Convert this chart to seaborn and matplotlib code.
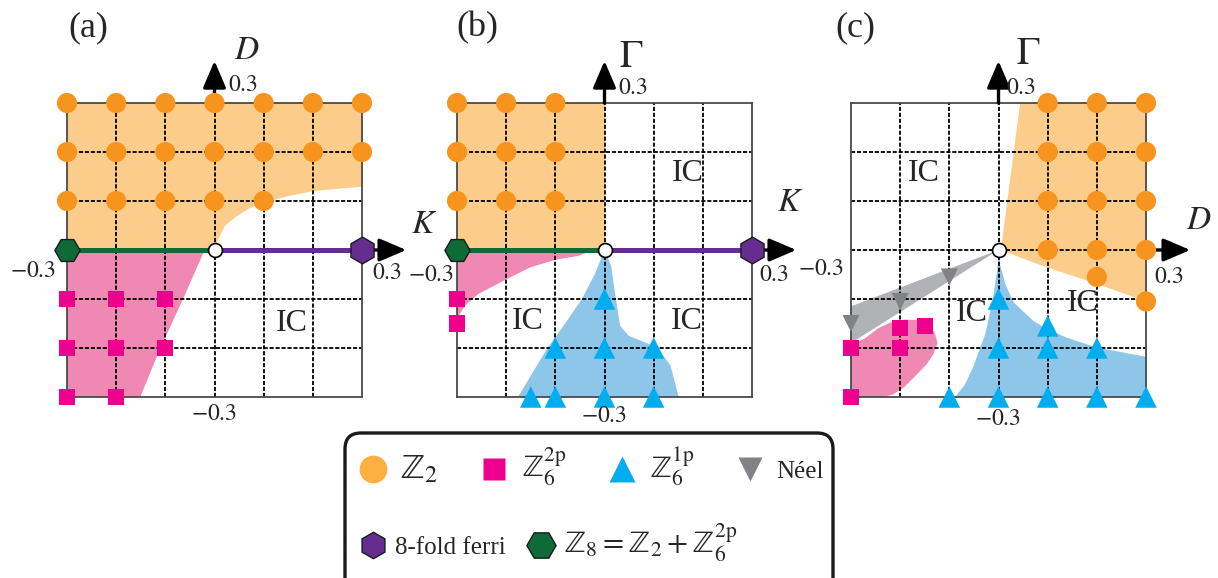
"""Phase diagrams (a) K-D, (b) K-Gamma, (c) D-Gamma with a shared legend."""

import matplotlib

matplotlib.use("Agg")
import matplotlib.pyplot as plt
from matplotlib.lines import Line2D
from matplotlib.patches import FancyBboxPatch
from matplotlib.transforms import IdentityTransform
import seaborn as sns

# colours
ORANGE = "#F7941D"
ORANGE_FILL = "#FCCD8A"
LEGEND_ORANGE = "#FBB040"
PINK = "#EC008C"
PINK_FILL = "#F088B4"
BLUE = "#00AEEF"
BLUE_FILL = "#8EC6EA"
GRAY = "#808285"
GRAY_FILL = "#B1B2B5"
GREEN = "#0E6B38"
PURPLE = "#662D91"

# ---------------- panel (a): K horizontal, D vertical ----------------
A_Z2_K = [-0.3, -0.2, -0.1, 0.0, 0.1, 0.2, 0.3,
          -0.3, -0.2, -0.1, 0.0, 0.1, 0.2, 0.3,
          -0.3, -0.2, -0.1, 0.0, 0.1]
A_Z2_D = [0.3, 0.3, 0.3, 0.3, 0.3, 0.3, 0.3,
          0.2, 0.2, 0.2, 0.2, 0.2, 0.2, 0.2,
          0.1, 0.1, 0.1, 0.1, 0.1]
A_Z62P_K = [-0.3, -0.2, -0.1, -0.3, -0.2, -0.1, -0.3, -0.2]
A_Z62P_D = [-0.1, -0.1, -0.1, -0.2, -0.2, -0.2, -0.3, -0.3]
A_ORANGE_K = [-0.3, -0.3, 0.3, 0.3, 0.25, 0.2, 0.15, 0.1, 0.069, 0.041, 0.021, 0.0075, 0.0]
A_ORANGE_D = [0.0, 0.3, 0.3, 0.129, 0.125, 0.12, 0.11, 0.097, 0.084, 0.066, 0.049, 0.022, 0.0]
A_PINK_K = [-0.3, -0.02, -0.064, -0.11, -0.151, -0.3]
A_PINK_D = [0.0, 0.0, -0.1, -0.2, -0.3, -0.3]
A_IC = [(0.157, -0.149)]

# ---------------- panel (b): K horizontal, Gamma vertical ----------------
B_Z2_K = [-0.3, -0.2, -0.1, -0.3, -0.2, -0.1, -0.3, -0.2, -0.1]
B_Z2_G = [0.3, 0.3, 0.3, 0.2, 0.2, 0.2, 0.1, 0.1, 0.1]
B_Z62P_K = [-0.3, -0.3]
B_Z62P_G = [-0.1, -0.15]
B_Z61P_K = [0.0, -0.1, 0.0, 0.1, -0.15, -0.1, 0.0, 0.1]
B_Z61P_G = [-0.1, -0.2, -0.2, -0.2, -0.3, -0.3, -0.3, -0.3]
B_ORANGE_K = [-0.3, -0.3, 0.0, 0.0]
B_ORANGE_G = [0.0, 0.3, 0.3, 0.0]
B_PINK_K = [-0.3, -0.02, -0.053, -0.1, -0.15, -0.2, -0.257, -0.284, -0.3]
B_PINK_G = [0.0, 0.0, -0.012, -0.02, -0.035, -0.06, -0.09, -0.114, -0.14]
B_BLUE_K = [0.0, -0.02, -0.046, -0.08, -0.116, -0.146, -0.176, 0.151,
            0.134, 0.107, 0.083, 0.049, 0.032, 0.023, 0.014, 0.005]
B_BLUE_G = [0.0, -0.05, -0.1, -0.15, -0.2, -0.25, -0.3, -0.3,
            -0.235, -0.2, -0.189, -0.175, -0.155, -0.1, -0.035, -0.01]
B_IC = [(0.17, 0.157), (-0.155, -0.145), (0.167, -0.145)]

# ---------------- panel (c): D horizontal, Gamma vertical ----------------
C_Z2_D = [0.1, 0.2, 0.3, 0.1, 0.2, 0.3, 0.1, 0.2, 0.3, 0.1, 0.2, 0.3, 0.2, 0.3]
C_Z2_G = [0.3, 0.3, 0.3, 0.2, 0.2, 0.2, 0.1, 0.1, 0.1, 0.0, 0.0, 0.0, -0.055, -0.105]
C_Z62P_D = [-0.3, -0.3, -0.2, -0.2, -0.15]
C_Z62P_G = [-0.2, -0.3, -0.2, -0.16, -0.155]
C_Z61P_D = [0.0, 0.1, 0.0, 0.1, 0.2, -0.1, 0.0, 0.1, 0.2, 0.3]
C_Z61P_G = [-0.1, -0.155, -0.2, -0.2, -0.2, -0.3, -0.3, -0.3, -0.3, -0.3]
C_NEEL_D = [-0.3, -0.2, -0.1]
C_NEEL_G = [-0.15, -0.105, -0.055]
C_ORANGE_D = [0.005, 0.044, 0.3, 0.3, 0.2, 0.1, 0.03]
C_ORANGE_G = [0.0, 0.3, 0.3, -0.105, -0.069, -0.036, -0.01]
C_GRAY_D = [0.0, -0.3, -0.3]
C_GRAY_G = [0.0, -0.115, -0.19]
C_PINK_D = [-0.3, -0.27, -0.245, -0.22, -0.19, -0.166, -0.145, -0.13, -0.124,
            -0.132, -0.146, -0.17, -0.193, -0.215, -0.235, -0.3]
C_PINK_G = [-0.195, -0.179, -0.16, -0.148, -0.142, -0.143, -0.152, -0.168, -0.19,
            -0.212, -0.233, -0.258, -0.281, -0.295, -0.3, -0.3]
C_BLUE_D = [0.0, -0.002, -0.012, -0.027, -0.052, -0.068, -0.088, 0.3, 0.3,
            0.2, 0.139, 0.1, 0.071, 0.031, 0.014, 0.003]
C_BLUE_G = [0.0, -0.036, -0.104, -0.172, -0.24, -0.274, -0.3, -0.3, -0.218,
            -0.199, -0.179, -0.162, -0.145, -0.107, -0.07, -0.029]
C_IC = [(-0.151, 0.157), (-0.055, -0.13), (0.171, -0.11)]

GRID_LINES = [-0.2, -0.1, 0.0, 0.1, 0.2]

SERIF = ["Liberation Serif", "DejaVu Serif"]
ZZ = "\u2124"  # double-struck Z


def scatter(ax, xs, ys, marker, size, color, edge="none", lw=0.0, z=6):
    """Draw one marker series through seaborn."""
    sns.scatterplot(
        x=xs, y=ys, marker=marker, s=size, color=color, edgecolor=edge,
        linewidth=lw, ax=ax, zorder=z, clip_on=False, legend=False,
    )


def base_panel(ax):
    """Frame, dashed grid and limits shared by all panels."""
    ax.set_xlim(-0.3, 0.3)
    ax.set_ylim(-0.3, 0.3)
    ax.set_xticks([])
    ax.set_yticks([])
    ax.set_xlabel("")
    ax.set_ylabel("")
    ax.set_facecolor("none")
    for spine in ax.spines.values():
        spine.set_color("#4a4a4a")
        spine.set_linewidth(1.3)
        spine.set_zorder(4)
    for v in GRID_LINES:
        ax.axvline(v, color="black", lw=1.3, ls=(0, (2.3, 1.0)), zorder=3)
        ax.axhline(v, color="black", lw=1.3, ls=(0, (2.3, 1.0)), zorder=3)
    arrow = dict(arrowstyle="-|>,head_length=0.75,head_width=0.32", lw=2.4,
                 color="black", mutation_scale=22, shrinkA=0, shrinkB=0)
    ax.annotate("", xy=(0.0, 0.386), xytext=(0.0, 0.3), arrowprops=arrow,
                annotation_clip=False, zorder=5)
    ax.annotate("", xy=(0.39, 0.0), xytext=(0.3, 0.0), arrowprops=arrow,
                annotation_clip=False, zorder=5)


def tick_text(ax, x, y, s):
    ax.text(x, y, f"${s}$", fontsize=17, ha="center", va="center",
            clip_on=False, zorder=8)


def axis_name(ax, x, y, s):
    ax.text(x, y, f"${s}$", fontsize=24, ha="center", va="center", zorder=8)


def ic_labels(ax, positions):
    for x, y in positions:
        ax.text(x, y, "IC", fontsize=23, ha="center", va="center", family=SERIF,
                zorder=7)


def chain_line(ax):
    """Green Z8 line, purple ferri line and the two hexagons."""
    ax.plot([-0.3, 0.0], [0.0, 0.0], color=GREEN, lw=3.6, zorder=5,
            solid_capstyle="butt")
    ax.plot([0.0, 0.3], [0.0, 0.0], color=PURPLE, lw=3.6, zorder=5,
            solid_capstyle="butt")
    scatter(ax, [-0.3], [0.0], "H", 330, GREEN, edge="#1a1a1a", lw=1.0, z=7)
    scatter(ax, [0.3], [0.0], "h", 370, PURPLE, edge="#1a1a1a", lw=1.0, z=7)


def origin(ax):
    scatter(ax, [0.0], [0.0], "o", 100, "white", edge="black", lw=1.2, z=9)


sns.set_theme(style="white")
plt.rcParams["font.family"] = SERIF
plt.rcParams["mathtext.fontset"] = "stix"

fig = plt.figure(figsize=(12.18, 5.78), dpi=100)
W, H = 1218.0, 578.0
box_w, box_h = 295.0 / W, 294.0 / H
box_bottom = (H - 397.0) / H
ax_a = fig.add_axes([67.0 / W, box_bottom, box_w, box_h])
ax_b = fig.add_axes([457.0 / W, box_bottom, box_w, box_h])
ax_c = fig.add_axes([851.0 / W, box_bottom, box_w, box_h])

# ---- (a)
base_panel(ax_a)
ax_a.fill(A_ORANGE_K, A_ORANGE_D, color=ORANGE_FILL, lw=0, zorder=1)
ax_a.fill(A_PINK_K, A_PINK_D, color=PINK_FILL, lw=0, zorder=1)
chain_line(ax_a)
scatter(ax_a, A_Z2_K, A_Z2_D, "o", 210, ORANGE)
scatter(ax_a, A_Z62P_K, A_Z62P_D, "s", 135, PINK)
origin(ax_a)
ic_labels(ax_a, A_IC)
axis_name(ax_a, 0.065, 0.406, "D")
axis_name(ax_a, 0.427, 0.051, "K")
tick_text(ax_a, 0.057, 0.335, "0.3")
tick_text(ax_a, 0.351, -0.047, "0.3")
tick_text(ax_a, -0.37, -0.043, "-0.3")
tick_text(ax_a, 0.0, -0.335, "-0.3")

# ---- (b)
base_panel(ax_b)
ax_b.fill(B_ORANGE_K, B_ORANGE_G, color=ORANGE_FILL, lw=0, zorder=1)
ax_b.fill(B_PINK_K, B_PINK_G, color=PINK_FILL, lw=0, zorder=1)
ax_b.fill(B_BLUE_K, B_BLUE_G, color=BLUE_FILL, lw=0, zorder=1)
chain_line(ax_b)
scatter(ax_b, B_Z2_K, B_Z2_G, "o", 210, ORANGE)
scatter(ax_b, B_Z62P_K, B_Z62P_G, "s", 135, PINK)
scatter(ax_b, B_Z61P_K, B_Z61P_G, "^", 240, BLUE)
origin(ax_b)
ic_labels(ax_b, B_IC)
ax_b.text(0.055, 0.392, r"$\Gamma$", fontsize=28, ha="center", va="center")
axis_name(ax_b, 0.378, 0.097, "K")
tick_text(ax_b, 0.057, 0.33, "0.3")
tick_text(ax_b, 0.345, -0.053, "0.3")
tick_text(ax_b, -0.353, -0.053, "-0.3")
tick_text(ax_b, 0.0, -0.339, "-0.3")

# ---- (c)
base_panel(ax_c)
ax_c.fill(C_ORANGE_D, C_ORANGE_G, color=ORANGE_FILL, lw=0, zorder=1)
ax_c.fill(C_GRAY_D, C_GRAY_G, color=GRAY_FILL, lw=0, zorder=1)
ax_c.fill(C_PINK_D, C_PINK_G, color=PINK_FILL, lw=0, zorder=1.5)
ax_c.fill(C_BLUE_D, C_BLUE_G, color=BLUE_FILL, lw=0, zorder=1)
scatter(ax_c, C_Z2_D, C_Z2_G, "o", 210, ORANGE)
scatter(ax_c, C_Z62P_D, C_Z62P_G, "s", 135, PINK)
scatter(ax_c, C_Z61P_D, C_Z61P_G, "^", 240, BLUE)
scatter(ax_c, C_NEEL_D, C_NEEL_G, "v", 150, GRAY)
origin(ax_c)
ic_labels(ax_c, C_IC)
ax_c.text(0.061, 0.4, r"$\Gamma$", fontsize=28, ha="center", va="center")
axis_name(ax_c, 0.408, 0.059, "D")
tick_text(ax_c, 0.045, 0.329, "0.3")
tick_text(ax_c, 0.347, -0.057, "0.3")
tick_text(ax_c, -0.361, -0.039, "-0.3")
tick_text(ax_c, 0.0, -0.345, "-0.3")

for label, px in (("(a)", 88), ("(b)", 477), ("(c)", 855)):
    fig.text(px / W, (H - 28) / H, label, fontsize=26, ha="center",
             va="center", family=SERIF)

# ---- legend
frame = FancyBboxPatch((345, -40), 488, 185, boxstyle="round,pad=0,rounding_size=16",
                       transform=IdentityTransform(), facecolor="white",
                       edgecolor="#1a1a1a", lw=2.4)
fig.add_artist(frame)

row1 = [
    Line2D([], [], ls="none", marker="o", ms=20, mfc=LEGEND_ORANGE, mec="none"),
    Line2D([], [], ls="none", marker="s", ms=16, mfc=PINK, mec="none"),
    Line2D([], [], ls="none", marker="^", ms=19, mfc=BLUE, mec="none"),
    Line2D([], [], ls="none", marker="v", ms=17, mfc=GRAY, mec="none"),
]
row1_labels = [rf"$\mathrm{{{ZZ}}}_2$", rf"$\mathrm{{{ZZ}}}_6^{{2\mathrm{{p}}}}$",
               rf"$\mathrm{{{ZZ}}}_6^{{1\mathrm{{p}}}}$", "N\u00e9el"]
row2 = [
    Line2D([], [], ls="none", marker="h", ms=19, mfc=PURPLE, mec="#1a1a1a", mew=1.0),
    Line2D([], [], ls="none", marker="H", ms=21, mfc=GREEN, mec="#1a1a1a", mew=1.0),
]
row2_labels = ["8-fold ferri",
               rf"$\mathrm{{{ZZ}}}_8 = \mathrm{{{ZZ}}}_2 + \mathrm{{{ZZ}}}_6^{{2\mathrm{{p}}}}$"]

leg1 = fig.legend(row1, row1_labels, loc="center left",
                  bbox_to_anchor=(360 / W, 111 / H), ncol=4, frameon=False,
                  handlelength=1.0, handletextpad=0.55, columnspacing=1.75,
                  borderpad=0, borderaxespad=0, fontsize=18)
leg2 = fig.legend(row2, row2_labels, loc="center left",
                  bbox_to_anchor=(360 / W, 35 / H), ncol=2, frameon=False,
                  handlelength=1.0, handletextpad=0.4, columnspacing=0.9,
                  borderpad=0, borderaxespad=0, fontsize=18)
for leg in (leg1, leg2):
    for text in leg.get_texts():
        if text.get_text().startswith("$"):
            text.set_fontsize(22)
leg1.get_texts()[0].set_fontsize(25)

fig.savefig("out.png", dpi=100)
plt.close(fig)
